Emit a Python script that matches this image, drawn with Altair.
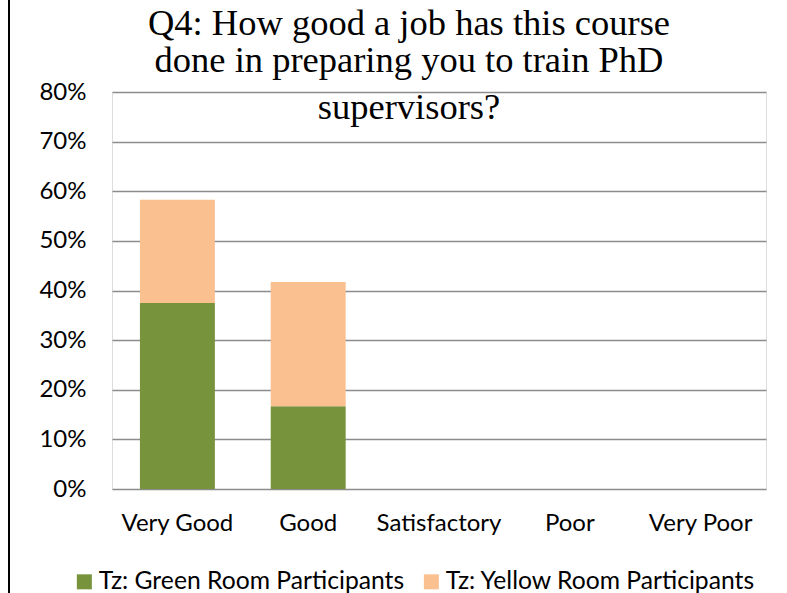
import altair as alt
import pandas as pd

categories = ["Very Good", "Good", "Satisfactory", "Poor", "Very Poor"]
series_names = ["Tz: Green Room Participants", "Tz: Yellow Room Participants"]
green_values = [0.375, 0.167, 0.0, 0.0, 0.0]
yellow_values = [0.208, 0.250, 0.0, 0.0, 0.0]
colors = ["#77933C", "#FAC090"]
title_lines = ["Q4: How good a job has this course", "done in preparing you to train PhD"]
title_last_line = "supervisors?"

rows = []
for i, c in enumerate(categories):
    rows.append({"category": c, "series": series_names[0], "value": green_values[i], "ord": 0})
    rows.append({"category": c, "series": series_names[1], "value": yellow_values[i], "ord": 1})
df = pd.DataFrame(rows)

label_font = "Lato"

bars = alt.Chart(df).mark_bar().encode(
    x=alt.X("category:N", sort=categories, title=None,
            scale=alt.Scale(paddingInner=0.427, paddingOuter=0.2135),
            axis=alt.Axis(labelAngle=0, domain=False, ticks=False, labelPadding=22,
                          labelFont=label_font, labelFontSize=24, labelColor="#000000",
                          grid=False)),
    y=alt.Y("value:Q", stack="zero", title=None,
            scale=alt.Scale(domain=[0, 0.8], nice=False),
            axis=alt.Axis(format="%", values=[0, 0.1, 0.2, 0.3, 0.4, 0.5, 0.6, 0.7, 0.8],
                          domain=False, ticks=False, labelPadding=26,
                          labelFont=label_font, labelFontSize=24, labelColor="#000000",
                          grid=True, gridColor="#8c8c8c", gridWidth=1.5)),
    color=alt.Color("series:N", sort=series_names,
                    scale=alt.Scale(domain=series_names, range=colors),
                    legend=alt.Legend(title=None, orient="none", direction="horizontal",
                                      legendX=-40, legendY=477, symbolType="square",
                                      symbolSize=225, symbolStrokeWidth=0, labelFont=label_font,
                                      labelFontSize=24.7, labelColor="#000000", labelOffset=2,
                                      labelLimit=500, columnPadding=14, padding=0)),
    order=alt.Order("ord:Q", sort="ascending"),
)

border = alt.Chart(df).mark_rule(color="#000000", strokeWidth=2).encode(
    x=alt.value(-103), y=alt.value(-92), y2=alt.value(501)
)

chart = alt.layer(bars, border).properties(
    width=654,
    height=397,
    autosize=alt.AutoSizeParams(type="none"),
    padding={"left": 112, "top": 92, "right": 21, "bottom": 104},
    title=alt.TitleParams(text=title_lines, subtitle=title_last_line,
                          font="Liberation Serif", fontSize=36.5, fontWeight="normal",
                          color="#000000", lineHeight=37,
                          subtitleFont="Liberation Serif", subtitleFontSize=36.5,
                          subtitleColor="#000000", subtitleLineHeight=37, subtitlePadding=10,
                          anchor="middle", frame="group", offset=-127, dx=-30),
).configure_view(stroke=None).configure(background="#ffffff")

chart.save("out.html", embed_options={"renderer": "svg", "actions": False})
